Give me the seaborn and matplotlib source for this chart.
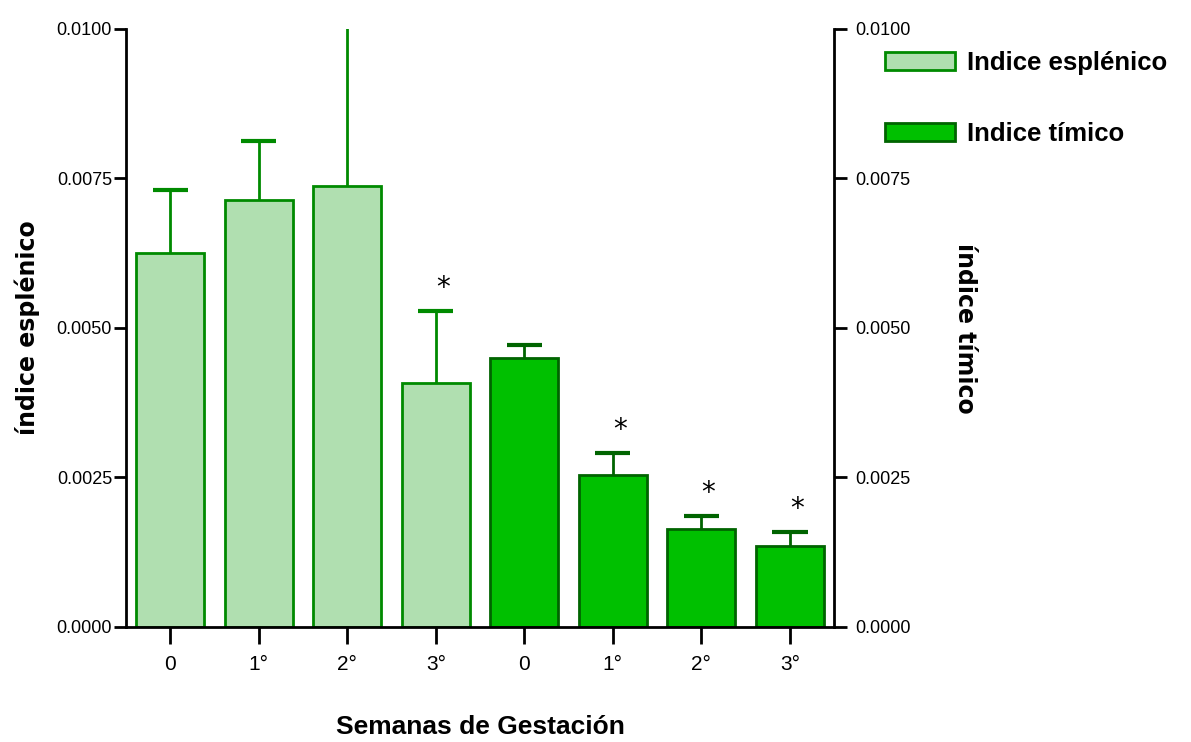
import numpy as np
import pandas as pd
import seaborn as sns
from matplotlib import pyplot as plt
from matplotlib.patches import Patch

sns.set_style("white")
plt.rcParams['font.family'] = ['Liberation Sans Narrow', 'Liberation Sans', 'DejaVu Sans']
plt.rcParams.update({"text.color": "black", "axes.labelcolor": "black",
                     "xtick.color": "black", "ytick.color": "black"})

# data
semanas = ["0", "1°", "2°", "3°", "0", "1°", "2°", "3°"]
grupos = ["Indice esplénico"] * 4 + ["Indice tímico"] * 4
medias = [0.00625, 0.00714, 0.00737, 0.00408, 0.00450, 0.00254, 0.00164, 0.00135]
errores = [0.00106, 0.00099, 0.00500, 0.00120, 0.00022, 0.00037, 0.00022, 0.00024]
significativo = [False, False, False, True, False, True, True, True]

df = pd.DataFrame({
    "pos": [str(i) for i in range(len(medias))],
    "valor": medias,
    "grupo": grupos,
})

fill = {"Indice esplénico": "#b0dfb0", "Indice tímico": "#00c000"}
edge = {"Indice esplénico": "#008a00", "Indice tímico": "#006400"}

fig = plt.figure(figsize=(11.91, 7.42), dpi=100)
ax = fig.add_axes([0.1058, 0.155, 0.5945, 0.806])

sns.barplot(data=df, x="pos", y="valor", hue="grupo", palette=fill, saturation=1,
            dodge=False, width=0.77, ax=ax, legend=False, linewidth=2, zorder=2)
for bar, g in zip(ax.patches, grupos):
    bar.set_edgecolor(edge[g])

# upper error bars only
x = np.arange(len(medias))
tops = np.array(medias) + np.array(errores)
for i in range(len(medias)):
    c = edge[grupos[i]]
    ax.vlines(x[i], medias[i], tops[i], colors=c, linewidth=2, zorder=1)
    ax.hlines(tops[i], x[i] - 0.2, x[i] + 0.2, colors=c, linewidth=3, zorder=1)
    if significativo[i]:
        ax.text(x[i] + 0.08, tops[i] + 0.00015, "*",
                ha="center", va="bottom", fontsize=20, family="DejaVu Sans")

ax.set_xlim(-0.5, 7.5)
ax.set_ylim(0, 0.01)
ax.set_yticks([0, 0.0025, 0.005, 0.0075, 0.01])
ax.set_yticklabels(["0.0000", "0.0025", "0.0050", "0.0075", "0.0100"])
ax.set_xticks(x)
ax.set_xticklabels(semanas, fontsize=15, family="Liberation Sans")
ax.tick_params(axis="y", direction="out", length=9, width=2, labelsize=13, pad=1, left=True)
ax.tick_params(axis="x", direction="out", length=12, width=2, pad=8, bottom=True)
for s in ["top", "right"]:
    ax.spines[s].set_visible(False)
for s in ["left", "bottom"]:
    ax.spines[s].set_linewidth(2)
    ax.spines[s].set_color("black")

ax.set_xlabel("Semanas de Gestación", fontsize=19, fontweight="bold", labelpad=30)
ax.set_ylabel("índice esplénico", fontsize=17, fontweight="bold",
              family="DejaVu Sans", labelpad=12)

ax2 = ax.twinx()
ax2.set_ylim(0, 0.01)
ax2.set_yticks([0, 0.0025, 0.005, 0.0075, 0.01])
ax2.set_yticklabels(["0.0000", "0.0025", "0.0050", "0.0075", "0.0100"])
ax2.tick_params(axis="y", direction="out", length=9, width=2, labelsize=13, pad=6, right=True)
for s in ["top", "left", "bottom"]:
    ax2.spines[s].set_visible(False)
ax2.spines["right"].set_linewidth(2)
ax2.spines["right"].set_color("black")
ax2.set_ylabel("índice tímico", fontsize=17, fontweight="bold",
               family="DejaVu Sans", rotation=-90, labelpad=48)

handles = [Patch(facecolor=fill[g], edgecolor=edge[g], linewidth=2, label=g)
           for g in ["Indice esplénico", "Indice tímico"]]
fig.legend(handles=handles, loc="upper left", bbox_to_anchor=(0.732, 0.948),
           frameon=False, borderpad=0, prop={"size": 18.5, "weight": "bold"},
           handlelength=2.75, handleheight=0.7, labelspacing=1.8, handletextpad=0.45)

fig.savefig("out.png", dpi=100)
